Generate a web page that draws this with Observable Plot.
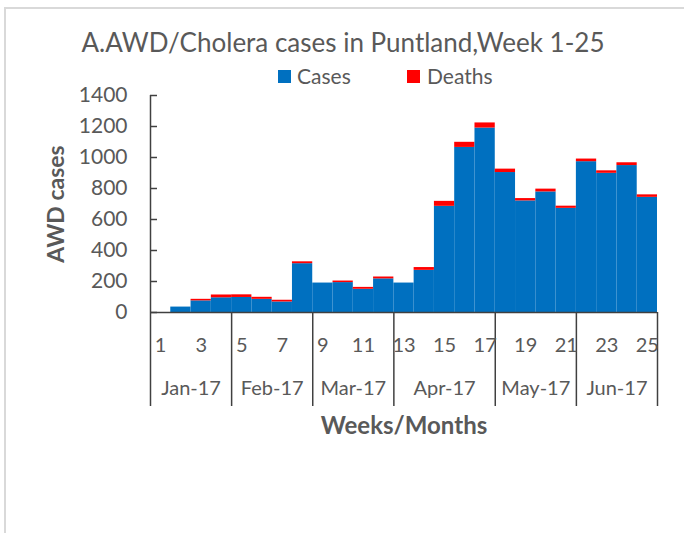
<!DOCTYPE html>
<html>
<head>
<meta charset="utf-8">
<script src="https://cdn.jsdelivr.net/npm/d3@7"></script>
<script src="https://cdn.jsdelivr.net/npm/@observablehq/plot@0.6"></script>
<style>
  body { margin:0; width:684px; height:533px; overflow:hidden; background:#fff; position:relative; font-family: Lato, "Open Sans", sans-serif; color:#595959; }
  #frame { position:absolute; left:4px; top:7px; width:700px; height:560px; border:2px solid #d9d9d9; }
  #title { position:absolute; left:0; top:27px; width:686px; text-align:center; font-size:26px; line-height:1.2; white-space:nowrap; }
  #legend { position:absolute; left:0; top:63px; width:684px; height:17px; font-size:21px; line-height:1.2; }
  #legend .sw { position:absolute; top:7px; width:13px; height:13px; }
  #legend .lb { position:absolute; top:0; white-space:nowrap; }
  #chart { position:absolute; left:0; top:80px; }
</style>
</head>
<body>
<div id="frame"></div>
<div id="title">A.AWD/Cholera cases in Puntland,Week 1-25</div>
<div id="legend"></div>
<div id="chart"></div>
<script>
const weeks = [1,2,3,4,5,6,7,8,9,10,11,12,13,14,15,16,17,18,19,20,21,22,23,24,25];
const cases = [0,35,75,95,97,85,68,315,190,193,150,217,190,272,685,1065,1190,903,720,778,672,973,898,948,743];
const deaths = [0,0,10,18,17,13,11,12,0,10,12,12,0,18,32,33,33,22,15,18,14,17,16,18,16];
const seriesNames = ["Cases","Deaths"];
const seriesColors = ["#0070C0","#FF0000"];
const weekTickLabels = ["1","3","5","7","9","11","13","15","17","19","21","23","25"];
const monthNames = ["Jan-17","Feb-17","Mar-17","Apr-17","May-17","Jun-17"];
const monthWeekCounts = [4,4,4,5,4,4];
const yTicks = [0,200,400,600,800,1000,1200,1400];

// legend (HTML)
const legend = document.getElementById("legend");
const legendPos = [[278,297],[407,427]];
seriesNames.forEach((n,i)=>{
  const sw = document.createElement("div"); sw.className="sw";
  sw.style.left = legendPos[i][0]+"px"; sw.style.background = seriesColors[i];
  const lb = document.createElement("div"); lb.className="lb";
  lb.style.left = legendPos[i][1]+"px"; lb.textContent = n;
  legend.append(sw, lb);
});

const rows = [];
weeks.forEach((w,i)=>{
  rows.push({week:w, series:"Cases", value:cases[i]});
  rows.push({week:w, series:"Deaths", value:deaths[i]});
});

// month boundaries and centres from counts
const bounds = [0]; monthWeekCounts.forEach(c=>bounds.push(bounds[bounds.length-1]+c));
const centers = monthWeekCounts.map((c,i)=>bounds[i]+c/2);
const weekTickPos = weekTickLabels.map(s=>+s-0.5);

const axisColor = "#404040";
const chart = Plot.plot({
  width: 684,
  height: 453,
  marginLeft: 150,
  marginRight: 27,
  marginTop: 15,
  marginBottom: 221,
  style: {fontFamily: "Lato, 'Open Sans', sans-serif", color: "#595959", background: "transparent"},
  x: {type: "linear", domain: [0, weeks.length], axis: null},
  y: {domain: [0, 1400], axis: null},
  color: {domain: seriesNames, range: seriesColors},
  marks: [
    Plot.rectY(rows, {x1: d=>d.week-1, x2: d=>d.week, y: "value", fill: "series", order: seriesNames}),
    Plot.ruleX([0], {stroke: axisColor, strokeWidth: 1.5}),
    Plot.ruleY([0], {stroke: axisColor, strokeWidth: 1.5}),
    Plot.axisY({ticks: yTicks, tickSize: -7, text: null, label: null, stroke: axisColor, strokeWidth: 1.5}),
    Plot.axisY({ticks: yTicks, tickSize: 0, tickPadding: 23, tickFormat: d=>String(d), label: null, fontSize: 21, fill: "#595959"}),
    Plot.axisX({ticks: bounds, tickSize: 94, text: null, label: null, stroke: axisColor, strokeWidth: 1.5}),
    Plot.axisX({ticks: weekTickPos, tickSize: 0, tickPadding: 25, tickFormat: (d,i)=>weekTickLabels[i], fontSize: 20, fill: "#595959", label: null}),
    Plot.axisX({ticks: centers, tickSize: 0, tickPadding: 68, tickFormat: (d,i)=>monthNames[i], fontSize: 20, fill: "#595959", label: null}),
    Plot.text(["AWD cases"], {frameAnchor: "left", textAnchor: "middle", rotate: -90, dx: -94, fontSize: 23, fontWeight: "bold", fill: "#595959"}),
    Plot.text(["Weeks/Months"], {frameAnchor: "bottom", dy: 121, fontSize: 24, fontWeight: "bold", fill: "#595959"})
  ]
});
document.getElementById("chart").append(chart);
</script>
</body>
</html>
